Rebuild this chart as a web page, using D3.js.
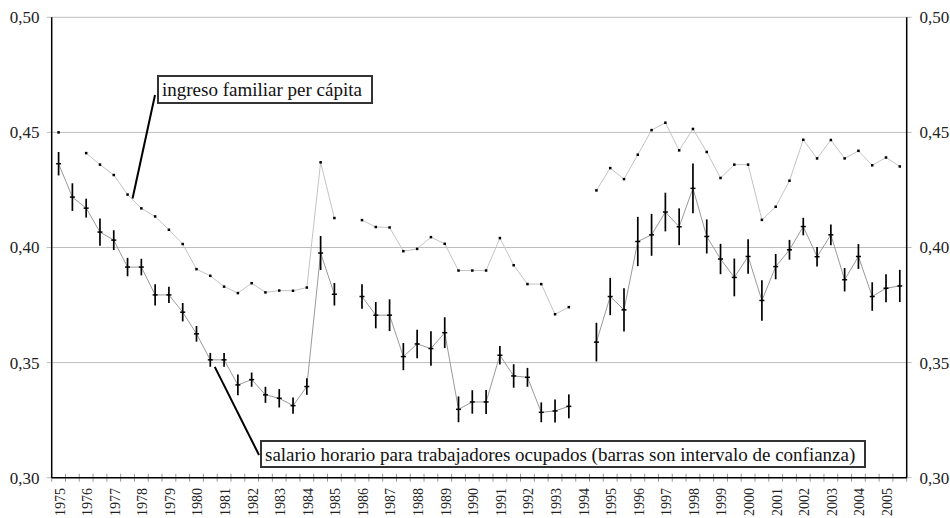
<!DOCTYPE html>
<html lang="es">
<head>
<meta charset="utf-8">
<title>Desigualdad: ingreso familiar y salario horario</title>
<script src="https://d3js.org/d3.v7.min.js"></script>
<style>
  body { margin: 0; background: #fff; }
  svg text { font-family: "Liberation Serif", "DejaVu Serif", Times, serif; }
</style>
</head>
<body>
<script>
// years on the axis, two semesters each
var years = ["1975","1976","1977","1978","1979","1980","1981","1982","1983","1984",
             "1985","1986","1987","1988","1989","1990","1991","1992","1993","1994",
             "1995","1996","1997","1998","1999","2000","2001","2002","2003","2004","2005"];
var semesters = ["1", "2"];

// ingreso familiar per capita (null = no data)
var ingreso = [0.450, null, 0.441, 0.436, 0.4315, 0.423, 0.417, 0.4135, 0.4077, 0.4015,
               0.3906, 0.3877, 0.383, 0.3802, 0.3845, 0.3805, 0.3813, 0.3812, 0.3826, 0.437,
               0.4128, null, 0.4119, 0.4089, 0.4087, 0.3984, 0.3994, 0.4045, 0.4016, 0.390,
               0.390, 0.390, 0.4041, 0.3923, 0.3841, 0.3841, 0.371, 0.3741, null, 0.4248,
               0.4345, 0.4297, 0.4403, 0.451, 0.4542, 0.4422, 0.4515, 0.4415, 0.4302, 0.436,
               0.436, 0.412, 0.4177, 0.429, 0.4468, 0.4387, 0.4467, 0.4387, 0.442, 0.4357,
               0.4391, 0.4352];

// salario horario, trabajadores ocupados
var salario = [0.4364, 0.4219, 0.4171, 0.4067, 0.4032, 0.3915, 0.3915, 0.3794, 0.3794, 0.3719,
               0.3625, 0.3512, 0.3512, 0.3403, 0.3426, 0.336, 0.3345, 0.3313, 0.3396, 0.3976,
               0.3797, null, 0.3787, 0.3706, 0.3706, 0.3526, 0.3581, 0.3561, 0.363, 0.3297,
               0.3329, 0.3329, 0.3532, 0.3442, 0.3436, 0.3284, 0.329, 0.331, null, 0.3589,
               0.3787, 0.3729, 0.4026, 0.4055, 0.4154, 0.409, 0.4257, 0.4048, 0.395, 0.387,
               0.3961, 0.377, 0.3917, 0.399, 0.4091, 0.396, 0.4055, 0.386, 0.3961, 0.3787,
               0.3823, 0.3833];

// half width of the confidence interval
var salarioCI = [0.0051, 0.006, 0.0041, 0.0059, 0.0043, 0.004, 0.0036, 0.0046, 0.0035, 0.004,
                 0.0034, 0.003, 0.003, 0.0045, 0.0031, 0.0035, 0.004, 0.0035, 0.0036, 0.0074,
                 0.0049, null, 0.0053, 0.0057, 0.0069, 0.0059, 0.0062, 0.0075, 0.0067, 0.0056,
                 0.0051, 0.0052, 0.004, 0.0051, 0.0041, 0.0043, 0.005, 0.0052, null, 0.0084,
                 0.0081, 0.0094, 0.0107, 0.0091, 0.0084, 0.008, 0.0108, 0.0074, 0.0066, 0.0082,
                 0.0075, 0.0088, 0.0055, 0.0043, 0.0038, 0.0042, 0.0045, 0.0051, 0.0054, 0.0062,
                 0.0061, 0.007];

var yTicks = [0.30, 0.35, 0.40, 0.45, 0.50];

var width = 950, height = 518;
var plotLeft = 51.7, plotRight = 906.7, plotTop = 17.3, plotBottom = 477.7;

var cats = [];
years.forEach(function(yr) { semesters.forEach(function(s) { cats.push(yr + "-" + s); }); });

var x = d3.scaleBand().domain(cats).range([plotLeft, plotRight]);
var xc = function(i) { return x(cats[i]) + x.bandwidth() / 2; };
var y = d3.scaleLinear().domain([0.30, 0.50]).range([plotBottom, plotTop]);
var fmt = function(d) { return d3.format(".2f")(d).replace(".", ","); };

var svg = d3.select("body").append("svg")
    .attr("width", width)
    .attr("height", height)
    .style("display", "block");

// gridlines (extend a little outside as ticks)
svg.append("g")
    .selectAll("line")
    .data(yTicks)
    .enter().append("line")
    .attr("x1", plotLeft - 5).attr("x2", plotRight + 5)
    .attr("y1", function(d) { return y(d); })
    .attr("y2", function(d) { return y(d); })
    .attr("stroke", "#bdbdbd")
    .attr("stroke-width", 1);

// y labels both sides
svg.append("g")
    .selectAll("text")
    .data(yTicks)
    .enter().append("text")
    .attr("x", 39.5)
    .attr("y", function(d) { return y(d); })
    .attr("dy", "0.35em")
    .attr("text-anchor", "end")
    .attr("font-size", 17)
    .attr("fill", "#222")
    .text(fmt);

svg.append("g")
    .selectAll("text")
    .data(yTicks)
    .enter().append("text")
    .attr("x", 919.5)
    .attr("y", function(d) { return y(d); })
    .attr("dy", "0.35em")
    .attr("text-anchor", "start")
    .attr("font-size", 17)
    .attr("fill", "#222")
    .text(fmt);

// x axis: cross ticks at category boundaries
var bounds = cats.map(function(c) { return x(c); }).concat([plotRight]);
svg.append("g")
    .selectAll("line")
    .data(bounds)
    .enter().append("line")
    .attr("x1", function(d) { return d; }).attr("x2", function(d) { return d; })
    .attr("y1", plotBottom - 4).attr("y2", plotBottom + 4)
    .attr("stroke", "#999")
    .attr("stroke-width", 1);

svg.append("line")
    .attr("x1", plotLeft).attr("x2", plotRight)
    .attr("y1", plotBottom).attr("y2", plotBottom)
    .attr("stroke", "#000").attr("stroke-width", 1.5);
svg.append("line")
    .attr("x1", plotLeft).attr("x2", plotLeft)
    .attr("y1", plotTop).attr("y2", plotBottom)
    .attr("stroke", "#000").attr("stroke-width", 1.5);
svg.append("line")
    .attr("x1", plotRight).attr("x2", plotRight)
    .attr("y1", plotTop).attr("y2", plotBottom)
    .attr("stroke", "#000").attr("stroke-width", 1.5);

// year labels on first semester of each year
svg.append("g")
    .selectAll("text")
    .data(years)
    .enter().append("text")
    .attr("transform", function(d, i) { return "translate(" + (xc(i * 2) + 1) + ",488) rotate(-90)"; })
    .attr("dy", "0.35em")
    .attr("text-anchor", "end")
    .attr("font-size", 14)
    .attr("fill", "#222")
    .text(function(d) { return d; });

// lines
var line = d3.line()
    .defined(function(d) { return d != null; })
    .x(function(d, i) { return xc(i); })
    .y(function(d) { return y(d); });

svg.append("path")
    .attr("d", line(ingreso))
    .attr("fill", "none")
    .attr("stroke", "#c4c4c4")
    .attr("stroke-width", 1);

svg.append("path")
    .attr("d", line(salario))
    .attr("fill", "none")
    .attr("stroke", "#9a9a9a")
    .attr("stroke-width", 1);

// ingreso markers
svg.append("g")
    .selectAll("rect")
    .data(ingreso.map(function(v, i) { return {v: v, i: i}; }).filter(function(d) { return d.v != null; }))
    .enter().append("rect")
    .attr("x", function(d) { return xc(d.i) - 1.25; })
    .attr("y", function(d) { return y(d.v) - 1.25; })
    .attr("width", 2.5).attr("height", 2.5)
    .attr("fill", "#000");

// salario error bars + markers
var sal = salario.map(function(v, i) { return {v: v, ci: salarioCI[i], i: i}; })
    .filter(function(d) { return d.v != null; });

svg.append("g")
    .selectAll("line")
    .data(sal)
    .enter().append("line")
    .attr("x1", function(d) { return xc(d.i); })
    .attr("x2", function(d) { return xc(d.i); })
    .attr("y1", function(d) { return y(d.v + d.ci); })
    .attr("y2", function(d) { return y(d.v - d.ci); })
    .attr("stroke", "#000")
    .attr("stroke-width", 1.7);

svg.append("g")
    .selectAll("rect")
    .data(sal)
    .enter().append("rect")
    .attr("x", function(d) { return xc(d.i) - 2.5; })
    .attr("y", function(d) { return y(d.v) - 0.75; })
    .attr("width", 5).attr("height", 1.5)
    .attr("fill", "#000");

// annotations
function note(bx, by, bw, bh, label, from, to) {
  svg.append("line")
      .attr("x1", from[0]).attr("y1", from[1])
      .attr("x2", to[0]).attr("y2", to[1])
      .attr("stroke", "#000").attr("stroke-width", 2);
  svg.append("rect")
      .attr("x", bx).attr("y", by)
      .attr("width", bw).attr("height", bh)
      .attr("fill", "#fff")
      .attr("stroke", "#333")
      .attr("stroke-width", 2);
  svg.append("text")
      .attr("x", bx + 4).attr("y", by + bh / 2)
      .attr("dy", "0.35em")
      .attr("font-size", 19)
      .attr("fill", "#111")
      .text(label);
}

note(158, 76, 214, 27, "ingreso familiar per cápita",
     [155, 95], [xc(5) + 5, y(ingreso[5]) + 4]);
note(261, 441, 604, 26, "salario horario para trabajadores ocupados (barras son intervalo de confianza)",
     [xc(11) + 4.5, y(salario[11]) + 7], [259, 455]);
</script>
</body>
</html>
